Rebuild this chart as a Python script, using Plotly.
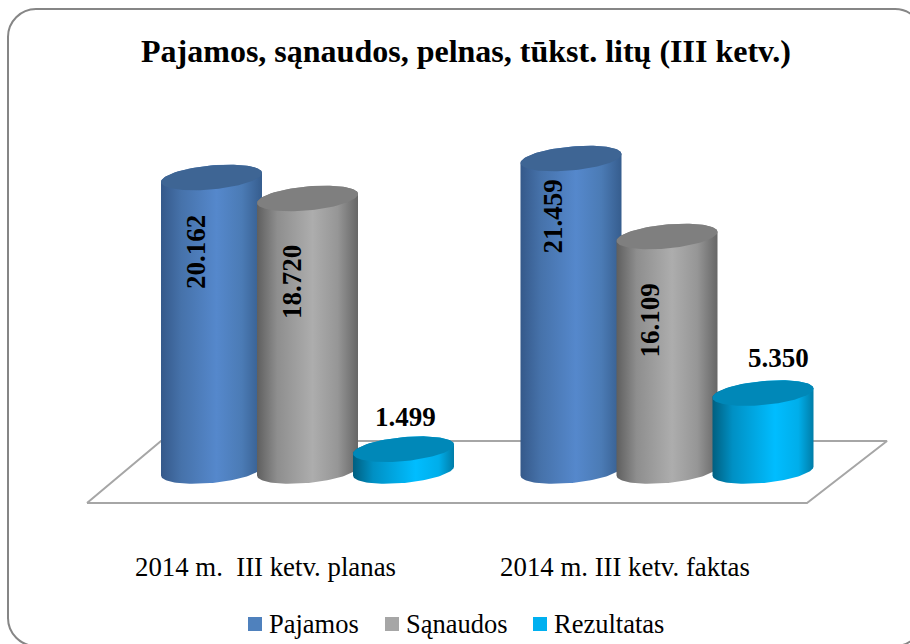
import numpy as np
import plotly.graph_objects as go

CATEGORIES = ["2014 m.  III ketv. planas", "2014 m. III ketv. faktas"]
SERIES = ["Pajamos", "Sąnaudos", "Rezultatas"]
PAJAMOS = [20162, 21459]
SANAUDOS = [18720, 16109]
REZULTATAS = [1499, 5350]
TITLE = "Pajamos, sąnaudos, pelnas, tūkst. litų (III ketv.)"

W, H = 910, 644
SERIF = "Liberation Serif"
BASE_PX = 471.0          # pixel row of the value 0 at the cylinders' base centre
PX_PER_UNIT = 0.01456
AXIS_PX = 545.0
CAT0_PX, CAT_STEP_PX = 265.5, 359.5
DEPTH_PX = 42.0
BAR_STEP_PX = 96.0
RADIUS_PX = 50.5
ELL_B_PX, ELL_SKEW_PX = 12.0, 4.5

X0 = -CAT0_PX / CAT_STEP_PX
X1 = (W - CAT0_PX) / CAT_STEP_PX
Y0 = -(H - BASE_PX) / PX_PER_UNIT
Y1 = BASE_PX / PX_PER_UNIT

STYLES = {
    "Pajamos": dict(swatch="#4F81BD", top="#3E6594",
                    grad=[[0, "#35598A"], [0.2, "#4672AA"], [0.55, "#5588CC"], [0.8, "#4B7BB5"], [1, "#365D8E"]]),
    "Sąnaudos": dict(swatch="#A6A6A6", top="#7F7F7F",
                     grad=[[0, "#5F5F5F"], [0.2, "#8E8E8E"], [0.55, "#ADADAD"], [0.8, "#969696"], [1, "#666666"]]),
    "Rezultatas": dict(swatch="#00B0F0", top="#0088B8",
                       grad=[[0, "#005F80"], [0.2, "#0090C4"], [0.62, "#00BDFF"], [0.85, "#00AEEA"], [1, "#007DA8"]]),
}
LEGEND_SWATCH_PX = {"Pajamos": 255, "Sąnaudos": 392, "Rezultatas": 540}
LEGEND_TEXT_PX = {"Pajamos": 267, "Sąnaudos": 404, "Rezultatas": 552}
LEGEND_ROW_PX = 624


def px_x(px):
    return X0 + px / W * (X1 - X0)


def px_y(px):
    return (BASE_PX - px) / PX_PER_UNIT


def paper_y(px):
    return 1 - px / H


rx = RADIUS_PX / CAT_STEP_PX
rb = ELL_B_PX / PX_PER_UNIT
rs = ELL_SKEW_PX / PX_PER_UNIT


def ellipse(cx, cy, t):
    return cx + rx * np.cos(t), cy + rb * np.sin(t) + rs * np.cos(t)


fig = go.Figure()

# floor
floor_x = [px_x(v) for v in (87, 807, 887, 161, 87)]
floor_y = [px_y(v) for v in (503, 503, 441, 441, 503)]
fig.add_trace(go.Scatter(x=floor_x, y=floor_y, mode="lines", showlegend=False, hoverinfo="skip",
                         line=dict(color="#A6A6A6", width=2)))

VALUES = [PAJAMOS, SANAUDOS, REZULTATAS]
STEP = BAR_STEP_PX / CAT_STEP_PX
DEPTH = DEPTH_PX / CAT_STEP_PX

for c in range(len(CATEGORIES)):
    for s, name in enumerate(SERIES):
        v = VALUES[s][c]
        st = STYLES[name]
        cx = c + DEPTH + (s - 1) * STEP
        tb = np.linspace(np.pi, 2 * np.pi, 60)
        bx, by = ellipse(cx, 0, tb)
        tt = np.linspace(0, np.pi, 60)
        ux, uy = ellipse(cx, v, tt)
        fig.add_trace(go.Scatter(
            x=np.r_[bx, ux, bx[0]], y=np.r_[by, uy, by[0]], mode="lines", fill="toself",
            line=dict(width=0), fillgradient=dict(type="horizontal", colorscale=st["grad"]),
            showlegend=False, name=name, hoverinfo="skip"))
        ta = np.linspace(0, 2 * np.pi, 120)
        ex, ey = ellipse(cx, v, ta)
        fig.add_trace(go.Scatter(x=ex, y=ey, mode="lines", fill="toself", fillcolor=st["top"],
                                 line=dict(width=0), showlegend=False, name=name,
                                 hovertemplate=f"{name}: {v}<extra></extra>"))

# legend row: swatch + label for each series
for name in SERIES:
    fig.add_trace(go.Scatter(x=[px_x(LEGEND_SWATCH_PX[name])], y=[px_y(LEGEND_ROW_PX)], mode="markers",
                             showlegend=False, name=name, hoverinfo="skip",
                             marker=dict(symbol="square", size=14, color=STYLES[name]["swatch"])))
    fig.add_annotation(x=px_x(LEGEND_TEXT_PX[name]), y=px_y(LEGEND_ROW_PX), text=name, showarrow=False,
                       xanchor="left", yanchor="middle",
                       font=dict(family=SERIF, size=26.5, color="black"))


def fmt(v):
    return f"{v:,}".replace(",", ".")


LABEL_OFFSETS = {
    (0, 0): (-15, 75, -90), (0, 1): (-15, 84, -90), (0, 2): (1.5, -32, 0),
    (1, 0): (-18, 58, -90), (1, 1): (-17, 84, -90), (1, 2): (15, -35, 0),
}
for (c, s), (dx, dy, ang) in LABEL_OFFSETS.items():
    v = VALUES[s][c]
    fig.add_annotation(x=c + DEPTH + (s - 1) * STEP, y=v, xref="x", yref="y", text=fmt(v), showarrow=False,
                       xshift=dx, yshift=-dy, textangle=ang, xanchor="center", yanchor="middle",
                       font=dict(family=SERIF, size=27, color="black", weight="bold"))

# rounded outer frame
L, T, R, B, r = 8, 9, 923, 646, 28
k = r * 0.45


def P(x, y):
    return f"{x / W:.5f},{paper_y(y):.5f}"


frame = (f"M{P(L + r, T)} L{P(R - r, T)} C{P(R - k, T)} {P(R, T + k)} {P(R, T + r)} "
         f"L{P(R, B - r)} C{P(R, B - k)} {P(R - k, B)} {P(R - r, B)} "
         f"L{P(L + r, B)} C{P(L + k, B)} {P(L, B - k)} {P(L, B - r)} "
         f"L{P(L, T + r)} C{P(L, T + k)} {P(L + k, T)} {P(L + r, T)} Z")
fig.add_shape(type="path", path=frame, xref="paper", yref="paper", layer="below",
              line=dict(color="#868686", width=2), fillcolor="white")

fig.update_layout(
    width=W, height=H, margin=dict(l=0, r=0, t=0, b=0, pad=0),
    paper_bgcolor="white", plot_bgcolor="rgba(0,0,0,0)",
    title=dict(text=f"<b>{TITLE}</b>", x=466 / W, xanchor="center", xref="paper",
               y=paper_y(51), yref="paper", yanchor="middle",
               font=dict(family=SERIF, size=32, color="black")),
    xaxis=dict(range=[X0, X1], tickmode="array", tickvals=list(range(len(CATEGORIES))), ticktext=CATEGORIES,
               anchor="free", position=paper_y(AXIS_PX), automargin=False,
               showgrid=False, zeroline=False, showline=False, ticks="", ticklabelstandoff=3,
               tickfont=dict(family=SERIF, size=26.8, color="black"), fixedrange=True),
    yaxis=dict(range=[Y0, Y1], visible=False, fixedrange=True),
    showlegend=False,
)
fig.write_html("out.html", config=dict(displayModeBar=False),
               post_script="document.body.style.margin='0';document.documentElement.style.overflow='hidden';")
